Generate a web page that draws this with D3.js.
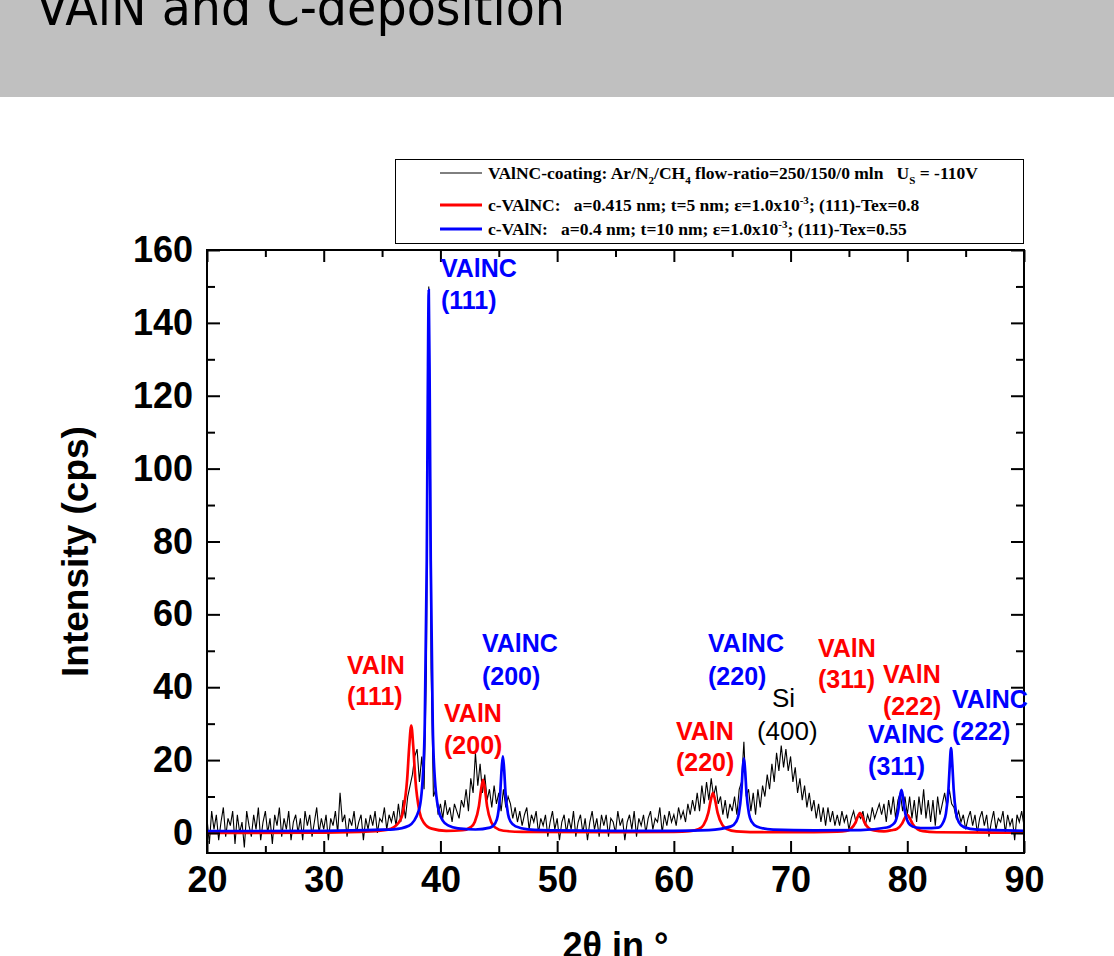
<!DOCTYPE html>
<meta charset="utf-8">
<script src="https://d3js.org/d3.v7.min.js"></script>
<style>
  body { margin: 0; background: #fff; }
  text { white-space: pre; }
</style>
<body>
<div id="chart"></div>
<script>

// measured XRD pattern, one value every 0.2 deg from 20 to 90 (cps)
var angleStart = 20, angleStep = 0.2;
var measured = [
  4, -3, 6, 1, 5, -2, 3, 7, -1, 4,
  2, 6, -3, 5, 0, 3, -4, 6, 2, -1,
  5, 1, 7, -2, 3, 6, 0, 4, -3, 5,
  2, 7, -1, 4, 1, 6, -2, 3, 5, 0,
  4, -2, 6, 2, 5, -1, 3, 7, 0, 4,
  1, 5, -2, 4, 2, 6, 0, 11, 3, 5,
  -1, 4, 2, 6, 0, 3, 5, -2, 4, 1,
  5, 2, 6, 0, 4, 3, 7, 1, 5, 3,
  6, 2, 8, 3, 9, 4, 10, 13, 16, 21,
  23, 14, 21, 12, 45, 150, 45, 10, 12, 5,
  8, 4, 9, 5, 7, 3, 8, 6, 4, 9,
  7, 12, 6, 15, 11, 22, 13, 19, 11, 16,
  9, 12, 7, 13, 8, 11, 6, 12, 7, 10,
  8, 4, 7, 3, 6, 2, 5, 7, 1, 5,
  3, 6, 0, 4, 2, 5, -1, 3, 6, 1,
  4, -2, 3, 5, 0, 4, 1, 6, -1, 3,
  5, 0, 4, -2, 3, 6, 1, 4, -1, 5,
  2, 5, -1, 4, 3, 0, 6, 2, 4, -2,
  3, 5, 1, 6, -1, 4, 2, 5, 0, 4,
  6, 1, 4, 3, 7, 0, 5, 2, 6, 3,
  5, 2, 7, 4, 6, 3, 8, 5, 9, 6,
  11, 6, 13, 8, 14, 9, 15, 10, 13, 8,
  10, 5, 9, 4, 8, 6, 10, 5, 12, 14,
  25, 10, 12, 6, 11, 5, 12, 7, 13, 10,
  16, 12, 19, 14, 22, 17, 24, 18, 23, 17,
  21, 14, 18, 11, 15, 9, 13, 7, 11, 6,
  9, 4, 8, 3, 7, 2, 7, 3, 6, 2,
  5, 2, 6, 3, 5, 1, 4, 6, 3, 5,
  4, 6, 2, 5, 3, 7, 4, 6, 8, 5,
  8, 3, 9, 5, 10, 4, 9, 11, 6, 10,
  5, 10, 4, 9, 3, 10, 5, 12, 4, 9,
  3, 9, 2, 10, 5, 8, 11, 7, 12, 8,
  7, 4, 6, 3, 5, 1, 4, 6, 2, 5,
  0, 4, 6, 2, 5, -1, 3, 6, 1, 4,
  3, 6, 0, 5, 2, 4, -2, 5, 3, 6,
  2
];

// simulated c-VAlNC pattern (red) [2theta, cps]
var simVAlNC = [
  [20, 0], [30, 0.1], [34, 0.4], [35.5, 0.9], [36.45, 2.95], [36.8, 5.9],
  [37.15, 14.75], [37.325, 23.6], [37.5, 29.5], [37.675, 23.6], [37.85, 14.75],
  [38.2, 5.9], [38.55, 2.95], [39.25, 1.2], [40.5, 0.6], [41.9, 0.75],
  [42.6, 1.6], [42.95, 3.1], [43.3, 7.4], [43.475, 11.7], [43.65, 14.6],
  [43.825, 11.7], [44.0, 7.3], [44.35, 3.0], [44.7, 1.5], [45.4, 0.6],
  [47, 0.3], [55, 0.2], [60, 0.3], [61.35, 0.5], [62.15, 1.1], [62.55, 2.2],
  [62.95, 5.5], [63.15, 8.8], [63.35, 11.0], [63.55, 8.8], [63.75, 5.5],
  [64.15, 2.2], [64.55, 1.1], [65.35, 0.45], [68, 0.2], [72, 0.25], [74, 0.35],
  [74.75, 0.55], [75.15, 1.1], [75.55, 2.75], [75.75, 4.4], [75.95, 5.5],
  [76.15, 4.4], [76.35, 2.75], [76.75, 1.2], [77.15, 0.7], [78.0, 0.45],
  [78.65, 0.75], [79.1, 1.1], [79.55, 2.55], [79.775, 4.0], [80.0, 5.0],
  [80.225, 4.0], [80.45, 2.5], [80.9, 1.0], [81.35, 0.5], [82.5, 0.2], [90, 0.05]
];

// simulated c-VAlN pattern (blue) [2theta, cps]
var simVAlN = [
  [20, 0.5], [30, 0.6], [35, 0.9], [36, 1.0], [37.3, 2.0], [38.15, 6.2],
  [38.49, 15.4], [38.66, 30.2], [38.83, 74.8], [38.915, 119.3], [39.0, 149.0],
  [39.085, 119.3], [39.17, 74.8], [39.34, 30.2], [39.51, 15.4], [39.85, 6.2],
  [40.2, 3.4], [40.7, 2.0], [41.5, 1.25], [43.0, 0.95], [44.25, 1.45],
  [44.69, 2.65], [44.91, 4.7], [45.13, 11.3], [45.24, 17.4], [45.35, 21.0],
  [45.46, 17.4], [45.57, 11.3], [45.79, 5.2], [46.01, 3.1], [46.45, 1.8],
  [47.5, 1.0], [50, 0.7], [55, 0.6], [60, 0.6], [63, 0.8], [64.9, 1.8],
  [65.34, 3.1], [65.56, 5.2], [65.78, 11.1], [65.89, 17.0], [66.0, 20.5],
  [66.11, 17.0], [66.22, 11.1], [66.44, 5.2], [66.66, 3.1], [67.1, 1.8],
  [68.5, 0.9], [72, 0.7], [76, 0.8], [78.25, 1.5], [78.75, 2.3], [79.0, 3.3],
  [79.25, 6.7], [79.375, 10.0], [79.5, 11.8], [79.625, 10.0], [79.75, 6.7],
  [80.0, 3.4], [80.25, 2.2], [80.75, 1.5], [81.5, 1.3], [82.65, 1.45],
  [83.09, 3.0], [83.31, 5.3], [83.53, 12.1], [83.64, 18.7], [83.75, 23.3],
  [83.86, 18.7], [83.97, 12.1], [84.19, 5.3], [84.41, 3.0], [84.85, 1.6],
  [86, 0.9], [90, 0.6]
];

var xTicks = [20, 30, 40, 50, 60, 70, 80, 90];
var xMinor = [25, 35, 45, 55, 65, 75, 85];
var yTicks = [0, 20, 40, 60, 80, 100, 120, 140, 160];
var yMinor = [10, 30, 50, 70, 90, 110, 130, 150];

// peak annotations: text, colour, anchor [2theta, cps]
var peakLabels = [
  ["VAlNC", "#0000ff", 40.05, 152.6], ["(111)", "#0000ff", 40.05, 143.8],
  ["VAlN", "#ff0000", 32.0, 43.6],    ["(111)", "#ff0000", 32.0, 35.1],
  ["VAlNC", "#0000ff", 43.56, 49.7],  ["(200)", "#0000ff", 43.56, 40.6],
  ["VAlN", "#ff0000", 40.31, 30.5],   ["(200)", "#ff0000", 40.31, 21.7],
  ["VAlNC", "#0000ff", 62.93, 49.7],  ["(220)", "#0000ff", 62.93, 40.6],
  ["VAlN", "#ff0000", 60.18, 25.5],   ["(220)", "#ff0000", 60.18, 17.0],
  ["VAlN", "#ff0000", 72.35, 48.3],   ["(311)", "#ff0000", 72.35, 39.8],
  ["VAlN", "#ff0000", 77.92, 41.2],   ["(222)", "#ff0000", 77.92, 32.4],
  ["VAlNC", "#0000ff", 76.64, 24.7],  ["(311)", "#0000ff", 76.64, 15.9],
  ["VAlNC", "#0000ff", 83.83, 34.3],  ["(222)", "#0000ff", 83.83, 25.5]
];
var siLabels = [["Si", 68.41, 34.6], ["(400)", 67.12, 25.5]];

var width = 1114, height = 956;
var margin = {top: 250, right: 90, bottom: 103, left: 207};

var svg = d3.select("#chart").append("svg")
  .attr("width", width)
  .attr("height", height);

// title band
svg.append("rect")
  .attr("x", 0).attr("y", 0)
  .attr("width", width).attr("height", 97)
  .attr("fill", "#c0c0c0");
svg.append("text")
  .attr("x", 36).attr("y", 25)
  .attr("textLength", 529)
  .attr("lengthAdjust", "spacingAndGlyphs")
  .style("font-family", "'DejaVu Sans Condensed', 'DejaVu Sans', sans-serif")
  .style("font-size", "52px")
  .text("VAlN and C-deposition");

var x = d3.scaleLinear().domain([20, 90]).range([margin.left, width - margin.right]);
var y = d3.scaleLinear().domain([-5.5, 160]).range([height - margin.bottom, margin.top]);

var x0 = x.range()[0], x1 = x.range()[1], y0 = y.range()[0], y1 = y.range()[1];

svg.append("clipPath").attr("id", "plotclip")
  .append("rect")
  .attr("x", x0).attr("y", y1)
  .attr("width", x1 - x0).attr("height", y0 - y1);

var plot = svg.append("g").attr("clip-path", "url(#plotclip)");

var measuredLine = d3.line()
  .x(function(d, i) { return x(angleStart + i * angleStep); })
  .y(function(d) { return y(d); });

plot.append("path")
  .attr("d", measuredLine(measured))
  .attr("fill", "none")
  .attr("stroke", "#000")
  .attr("stroke-width", 1.1);

var simLine = d3.line()
  .x(function(d) { return x(d[0]); })
  .y(function(d) { return y(d[1]); })
  .curve(d3.curveMonotoneX);

plot.append("path")
  .attr("d", simLine(simVAlNC))
  .attr("fill", "none")
  .attr("stroke", "#ff0000")
  .attr("stroke-width", 2.7);

plot.append("path")
  .attr("d", simLine(simVAlN))
  .attr("fill", "none")
  .attr("stroke", "#0000ff")
  .attr("stroke-width", 2.7);

// axes, ticks pointing inwards on all four sides
function styleAxis(g) {
  g.select(".domain").remove();
  g.selectAll("line").attr("stroke", "#000").attr("stroke-width", 2);
  g.selectAll("text")
    .style("font-family", "'Liberation Sans', Arial, sans-serif")
    .style("font-weight", "bold")
    .style("font-size", "36px")
    .attr("fill", "#000");
}

svg.append("g")
  .attr("transform", "translate(0," + y0 + ")")
  .call(d3.axisBottom(x).tickValues(xTicks).tickSize(-12).tickPadding(13))
  .call(styleAxis);
svg.append("g")
  .attr("transform", "translate(0," + y0 + ")")
  .call(d3.axisBottom(x).tickValues(xMinor).tickSize(-7).tickFormat(""))
  .call(styleAxis);
svg.append("g")
  .attr("transform", "translate(0," + y1 + ")")
  .call(d3.axisTop(x).tickValues(xTicks).tickSize(-12).tickFormat(""))
  .call(styleAxis);
svg.append("g")
  .attr("transform", "translate(0," + y1 + ")")
  .call(d3.axisTop(x).tickValues(xMinor).tickSize(-7).tickFormat(""))
  .call(styleAxis);

svg.append("g")
  .attr("transform", "translate(" + x0 + ",0)")
  .call(d3.axisLeft(y).tickValues(yTicks).tickSize(-13).tickPadding(14))
  .call(styleAxis);
svg.append("g")
  .attr("transform", "translate(" + x0 + ",0)")
  .call(d3.axisLeft(y).tickValues(yMinor).tickSize(-8).tickFormat(""))
  .call(styleAxis);
svg.append("g")
  .attr("transform", "translate(" + x1 + ",0)")
  .call(d3.axisRight(y).tickValues(yTicks).tickSize(-13).tickFormat(""))
  .call(styleAxis);
svg.append("g")
  .attr("transform", "translate(" + x1 + ",0)")
  .call(d3.axisRight(y).tickValues(yMinor).tickSize(-8).tickFormat(""))
  .call(styleAxis);

// frame
svg.append("rect")
  .attr("x", x0).attr("y", y1)
  .attr("width", x1 - x0).attr("height", y0 - y1)
  .attr("fill", "none")
  .attr("stroke", "#000")
  .attr("stroke-width", 2);

// axis titles
svg.append("text")
  .attr("transform", "translate(88," + ((y0 + y1) / 2) + ") rotate(-90)")
  .attr("text-anchor", "middle")
  .style("font-family", "'Liberation Sans', Arial, sans-serif")
  .style("font-weight", "bold")
  .style("font-size", "37px")
  .text("Intensity (cps)");

svg.append("text")
  .attr("x", (x0 + x1) / 2).attr("y", 958)
  .attr("text-anchor", "middle")
  .style("font-family", "'Liberation Sans', Arial, sans-serif")
  .style("font-weight", "bold")
  .style("font-size", "36px")
  .text("2\u03b8 in \u00b0");

// peak labels
svg.selectAll(".peak")
  .data(peakLabels)
  .enter().append("text")
  .attr("class", "peak")
  .attr("x", function(d) { return x(d[2]); })
  .attr("y", function(d) { return y(d[3]); })
  .attr("fill", function(d) { return d[1]; })
  .style("font-family", "'Liberation Sans', Arial, sans-serif")
  .style("font-weight", "bold")
  .style("font-size", "25px")
  .text(function(d) { return d[0]; });

svg.selectAll(".si")
  .data(siLabels)
  .enter().append("text")
  .attr("class", "si")
  .attr("x", function(d) { return x(d[1]); })
  .attr("y", function(d) { return y(d[2]); })
  .attr("fill", "#000")
  .style("font-family", "'Liberation Sans', Arial, sans-serif")
  .style("font-size", "26px")
  .text(function(d) { return d[0]; });

// legend
var legend = svg.append("g")
  .style("font-family", "'Liberation Serif', 'Times New Roman', serif")
  .style("font-weight", "bold")
  .style("font-size", "17.5px");

legend.append("rect")
  .attr("x", 395.5).attr("y", 159.5)
  .attr("width", 628).attr("height", 84)
  .attr("fill", "#fff")
  .attr("stroke", "#000")
  .attr("stroke-width", 1);

var legendRows = [
  {color: "#000", w: 1, y: 173},
  {color: "#ff0000", w: 3, y: 205},
  {color: "#0000ff", w: 3, y: 229}
];
legend.selectAll(".swatch")
  .data(legendRows)
  .enter().append("line")
  .attr("x1", 440).attr("x2", 482)
  .attr("y1", function(d) { return d.y; })
  .attr("y2", function(d) { return d.y; })
  .attr("stroke", function(d) { return d.color; })
  .attr("stroke-width", function(d) { return d.w; });

var t1 = legend.append("text").attr("x", 488).attr("y", 179);
t1.append("tspan").text("VAlNC-coating: Ar/N");
t1.append("tspan").attr("font-size", "11px").attr("dy", 5).text("2");
t1.append("tspan").attr("dy", -5).text("/CH");
t1.append("tspan").attr("font-size", "11px").attr("dy", 5).text("4");
t1.append("tspan").attr("dy", -5).text(" flow-ratio=250/150/0 mln   U");
t1.append("tspan").attr("font-size", "11px").attr("dy", 5).text("S");
t1.append("tspan").attr("dy", -5).text(" = -110V");

var t2 = legend.append("text").attr("x", 488).attr("y", 211);
t2.append("tspan").text("c-VAlNC:   a=0.415 nm; t=5 nm; \u025b=1.0x10");
t2.append("tspan").attr("font-size", "11px").attr("dy", -7).text("-3");
t2.append("tspan").attr("dy", 7).text("; (111)-Tex=0.8");

var t3 = legend.append("text").attr("x", 488).attr("y", 235);
t3.append("tspan").text("c-VAlN:   a=0.4 nm; t=10 nm; \u025b=1.0x10");
t3.append("tspan").attr("font-size", "11px").attr("dy", -7).text("-3");
t3.append("tspan").attr("dy", 7).text("; (111)-Tex=0.55");

</script>
</body>
